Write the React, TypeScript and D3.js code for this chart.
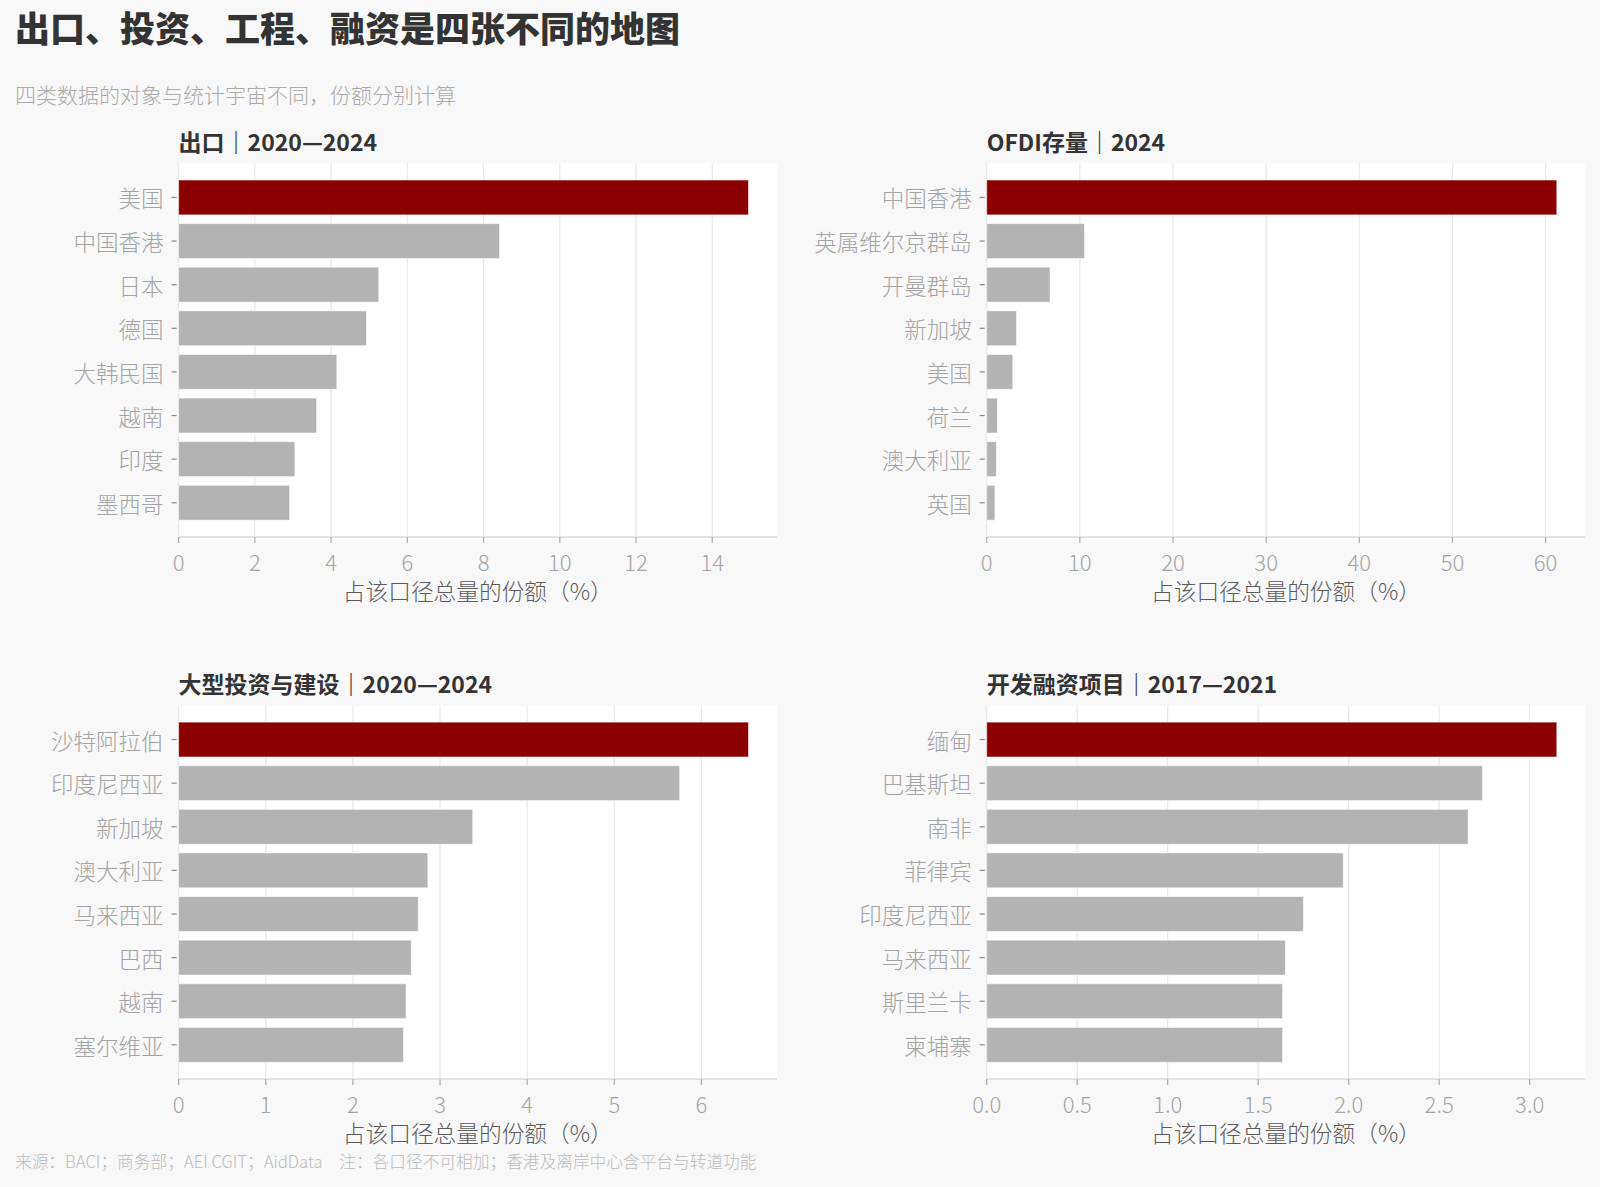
import React from "react";
import * as d3 from "d3";

const exportCats = ["美国", "中国香港", "日本", "德国", "大韩民国", "越南", "印度", "墨西哥"];
const exportVals = [14.95, 8.42, 5.25, 4.93, 4.15, 3.62, 3.05, 2.91];

const ofdiCats = ["中国香港", "英属维尔京群岛", "开曼群岛", "新加坡", "美国", "荷兰", "澳大利亚", "英国"];
const ofdiVals = [61.2, 10.5, 6.8, 3.2, 2.8, 1.15, 1.04, 0.88];

const investCats = ["沙特阿拉伯", "印度尼西亚", "新加坡", "澳大利亚", "马来西亚", "巴西", "越南", "塞尔维亚"];
const investVals = [6.54, 5.75, 3.375, 2.86, 2.75, 2.67, 2.61, 2.58];

const financeCats = ["缅甸", "巴基斯坦", "南非", "菲律宾", "印度尼西亚", "马来西亚", "斯里兰卡", "柬埔寨"];
const financeVals = [3.15, 2.74, 2.66, 1.97, 1.75, 1.65, 1.635, 1.635];

const panelTitles = ["出口｜2020—2024", "OFDI存量｜2024", "大型投资与建设｜2020—2024", "开发融资项目｜2017—2021"];
const mainTitle = "出口、投资、工程、融资是四张不同的地图";
const subTitle = "四类数据的对象与统计宇宙不同，份额分别计算";
const xAxisTitle = "占该口径总量的份额（%）";
const footer = "来源：BACI；商务部；AEI CGIT；AidData　注：各口径不可相加；香港及离岸中心含平台与转道功能";

const FONT = "'Noto Sans CJK SC', 'Noto Sans', sans-serif";
const W = 1600;
const H = 1187;

type PanelProps = {
  title: string;
  cats: string[];
  vals: number[];
  left: number;
  top: number;
  width: number;
  height: number;
};

function Panel({ title, cats, vals, left, top, width, height }: PanelProps) {
  const maxV = d3.max(vals) as number;
  const x = d3.scaleLinear().domain([0, maxV * 1.05]).range([0, width]);
  const y = d3
    .scaleBand<string>()
    .domain(cats)
    .range([0, height])
    .paddingInner(0.2)
    .paddingOuter(0.383);
  const ticks = x.ticks(7);
  const fmt = x.tickFormat(7);
  return (
    <g transform={`translate(${left},${top})`}>
      <text
        x={0}
        y={-12.5}
        fontFamily={FONT}
        fontWeight={700}
        fontSize={23}
        fill="#333"
      >
        {title}
      </text>
      <rect x={0} y={0} width={width} height={height} fill="#ffffff" />
      {ticks.map((t) => (
        <line
          key={"g" + t}
          x1={x(t)}
          x2={x(t)}
          y1={0}
          y2={height}
          stroke="#e8e8e8"
          strokeWidth={1.2}
        />
      ))}
      <line x1={0} x2={width} y1={height} y2={height} stroke="#e2e2e2" strokeWidth={2} />
      {cats.map((c, i) => (
        <rect
          key={c}
          x={x(0)}
          y={y(c) as number}
          width={x(vals[i]) - x(0)}
          height={y.bandwidth()}
          fill={i === 0 ? "#8b0000" : "#b3b3b3"}
          stroke="#ffffff"
          strokeOpacity={0.55}
          strokeWidth={1}
        />
      ))}
      {cats.map((c) => {
        const cy = (y(c) as number) + y.bandwidth() / 2;
        return (
          <g key={"yl" + c}>
            <line x1={-7} x2={-2} y1={cy} y2={cy} stroke="#888" strokeWidth={1.2} />
            <text
              x={-15}
              y={cy}
              textAnchor="end"
              dominantBaseline="central"
              fontFamily={FONT}
              fontWeight={300}
              fontSize={22.5}
              fill="#a3a3a3"
            >
              {c}
            </text>
          </g>
        );
      })}
      {ticks.map((t) => (
        <g key={"xl" + t}>
          <line x1={x(t)} x2={x(t)} y1={height} y2={height + 6} stroke="#aaa" strokeWidth={1.2} />
          <text
            x={x(t)}
            y={height + 34}
            textAnchor="middle"
            fontFamily={FONT}
            fontWeight={300}
            fontSize={22}
            fill="#a3a3a3"
          >
            {fmt(t)}
          </text>
        </g>
      ))}
      <text
        x={width / 2}
        y={height + 63}
        textAnchor="middle"
        fontFamily={FONT}
        fontWeight={300}
        fontSize={22.7}
        fill="#5a5a5a"
      >
        {xAxisTitle}
      </text>
    </g>
  );
}

export default function App() {
  const colLeft = [178.6, 986.7];
  const colWidth = [598.4, 598.6];
  const rowTop = [163.3, 705.4];
  const ph = 373.6;
  const data = [
    [exportCats, exportVals],
    [ofdiCats, ofdiVals],
    [investCats, investVals],
    [financeCats, financeVals],
  ] as [string[], number[]][];
  return (
    <div style={{ position: "absolute", left: 0, top: 0 }}>
      <svg width={W} height={H} style={{ display: "block" }}>
        <rect x={0} y={0} width={W} height={H} fill="#f8f8f8" />
        <text x={15} y={42} fontFamily={FONT} fontWeight={900} fontSize={35} fill="#333">
          {mainTitle}
        </text>
        <text x={15} y={103} fontFamily={FONT} fontWeight={300} fontSize={21} fill="#aaa">
          {subTitle}
        </text>
        {data.map(([cats, vals], i) => (
          <Panel
            key={i}
            title={panelTitles[i]}
            cats={cats}
            vals={vals}
            left={colLeft[i % 2]}
            top={rowTop[Math.floor(i / 2)]}
            width={colWidth[i % 2]}
            height={ph}
          />
        ))}
        <text
          x={15}
          y={1168}
          fontFamily={FONT}
          fontWeight={300}
          fontSize={16.7}
          fill="#bbb"
          style={{ whiteSpace: "pre" }}
        >
          {footer}
        </text>
      </svg>
    </div>
  );
}
